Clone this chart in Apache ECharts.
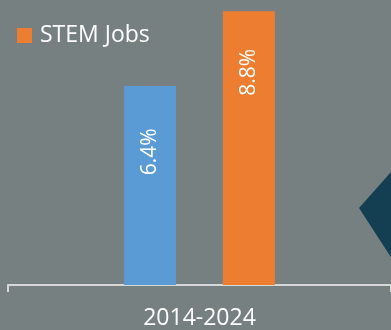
<!DOCTYPE html>
<html>
<head>
<meta charset="utf-8">
<script src="https://cdn.jsdelivr.net/npm/echarts@6/dist/echarts.min.js"></script>
<style>
  html, body { margin: 0; padding: 0; background: #778080; }
  #chart { width: 391px; height: 330px; }
</style>
</head>
<body>
<div id="chart"></div>
<script>
// Projected employment growth, 2014-2024
const categories = ['2014-2024'];
const allJobs = [6.4];
const stemJobs = [8.8];

const FONT = '"Open Sans", Lato, sans-serif';

const chart = echarts.init(document.getElementById('chart'), null, { renderer: 'canvas' });

const fmt = p => p.value.toFixed(1) + '%';

chart.setOption({
  backgroundColor: '#778080',
  animation: false,
  textStyle: { fontFamily: FONT },
  legend: {
    data: ['STEM Jobs'],
    left: 17,
    top: 24,
    padding: 0,
    icon: 'rect',
    itemWidth: 15,
    itemHeight: 15,
    textStyle: { color: '#ffffff', fontSize: 23, fontFamily: FONT, padding: [0, 0, 0, 3] }
  },
  grid: { left: 8, right: -1, top: 5, bottom: 44 },
  xAxis: {
    type: 'category',
    data: categories,
    axisLine: { lineStyle: { color: '#d6d8d8', width: 2 } },
    axisTick: { show: true, length: 7, lineStyle: { color: '#d6d8d8', width: 2 } },
    axisLabel: { color: '#ffffff', fontSize: 23, margin: 22, fontFamily: FONT }
  },
  yAxis: {
    type: 'value',
    min: 0,
    max: 9,
    show: false,
    splitLine: { show: false }
  },
  series: [
    {
      name: 'All Jobs',
      type: 'bar',
      data: allJobs,
      barWidth: 52,
      barGap: '90%',
      itemStyle: { color: '#5b9bd5' },
      label: {
        show: true,
        position: ['50%', 66],
        rotate: 90,
        align: 'center',
        verticalAlign: 'middle',
        color: '#ffffff',
        fontSize: 21,
        fontFamily: FONT,
        formatter: fmt
      }
    },
    {
      name: 'STEM Jobs',
      type: 'bar',
      data: stemJobs,
      barWidth: 52,
      barGap: '90%',
      itemStyle: { color: '#ed7d31' },
      label: {
        show: true,
        position: ['50%', 61],
        rotate: 90,
        align: 'center',
        verticalAlign: 'middle',
        color: '#ffffff',
        fontSize: 21,
        fontFamily: FONT,
        formatter: fmt
      }
    }
  ],
  graphic: [
    {
      type: 'polygon',
      shape: { points: [[359, 208], [400, 162], [430, 215], [400, 271]] },
      style: { fill: '#143f52' },
      z: 1
    }
  ]
});
</script>
</body>
</html>
